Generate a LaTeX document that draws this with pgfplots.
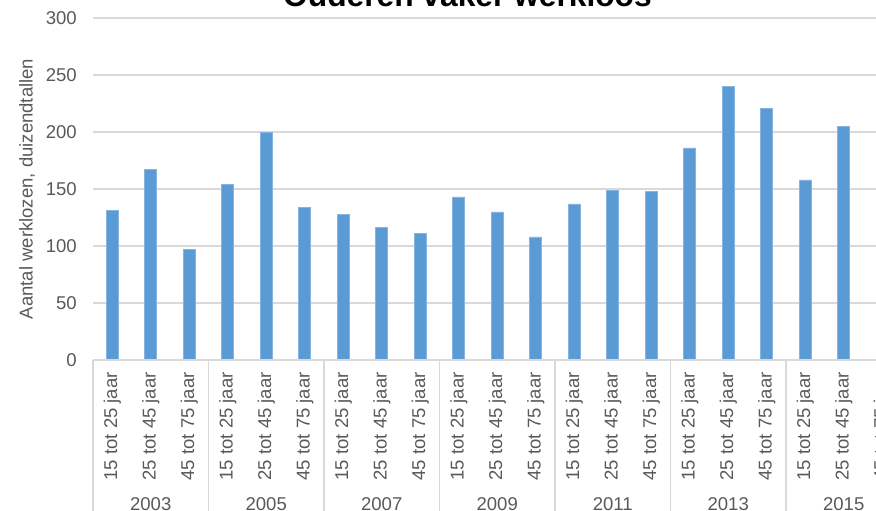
\documentclass[border=0pt]{standalone}
\usepackage{pgfplots}
\pgfplotsset{compat=1.18}
\usepackage{fontspec}
\setmainfont{Liberation Sans}
\definecolor{barblue}{HTML}{5B9BD5}
\definecolor{baredge}{HTML}{86B4E2}
\definecolor{gridgray}{HTML}{D9D9D9}
\definecolor{textgray}{HTML}{595959}
\begin{document}
\begin{tikzpicture}
\begin{axis}[
  at={(0pt,0pt)}, anchor=south west,
  scale only axis, width=606.375pt, height=256.5pt,
  xmin=-0.5, xmax=20.5, ymin=0, ymax=300,
  ytick={0,50,100,150,200,250,300},
  xtick={0,...,20},
  xticklabels={15 tot 25 jaar,25 tot 45 jaar,45 tot 75 jaar,
               15 tot 25 jaar,25 tot 45 jaar,45 tot 75 jaar,
               15 tot 25 jaar,25 tot 45 jaar,45 tot 75 jaar,
               15 tot 25 jaar,25 tot 45 jaar,45 tot 75 jaar,
               15 tot 25 jaar,25 tot 45 jaar,45 tot 75 jaar,
               15 tot 25 jaar,25 tot 45 jaar,45 tot 75 jaar,
               15 tot 25 jaar,25 tot 45 jaar,45 tot 75 jaar},
  /pgf/number format/assume math mode=true,
  axis line style={draw=none},
  major tick length=0pt,
  ymajorgrids, grid style={gridgray, line width=1pt},
  ticklabel style={font=\fontsize{13.9}{16}\selectfont, text=textgray},
  xticklabel style={rotate=90, anchor=east, inner sep=0pt},
  xticklabel shift=9pt,
  yticklabel style={anchor=east, inner sep=0pt},
  yticklabel shift=12pt,
  ylabel={Aantal werklozen, duizendtallen},
  ylabel style={at={(axis description cs:-0.0816,0.5)}, anchor=center,
                font=\fontsize{13.9}{16}\selectfont, text=textgray},
  clip=false,
]
\addplot[ybar, bar width=9pt, fill=barblue, draw=baredge, line width=0.4pt]
  coordinates {
  (0,131) (1,167) (2,97)
  (3,154) (4,200) (5,134)
  (6,128) (7,116) (8,111)
  (9,143) (10,130) (11,108)
  (12,137) (13,149) (14,148)
  (15,186) (16,240) (17,221)
  (18,158) (19,205) (20,251)
  };
\draw[gridgray, line width=1pt] (axis cs:-0.5,0) -- (axis cs:20.5,0);
\draw[gridgray, line width=1pt] (axis cs:-0.5,0) -- ++(0pt,-130pt);
\draw[gridgray, line width=1pt] (axis cs:2.5,0) -- ++(0pt,-130pt);
\draw[gridgray, line width=1pt] (axis cs:5.5,0) -- ++(0pt,-130pt);
\draw[gridgray, line width=1pt] (axis cs:8.5,0) -- ++(0pt,-130pt);
\draw[gridgray, line width=1pt] (axis cs:11.5,0) -- ++(0pt,-130pt);
\draw[gridgray, line width=1pt] (axis cs:14.5,0) -- ++(0pt,-130pt);
\draw[gridgray, line width=1pt] (axis cs:17.5,0) -- ++(0pt,-130pt);
\draw[gridgray, line width=1pt] (axis cs:20.5,0) -- ++(0pt,-130pt);
\foreach \xx/\yr in {1/2003,4/2005,7/2007,10/2009,13/2011,16/2013,19/2015}{
  \edef\tmp{\noexpand\node[anchor=base, inner sep=0pt, text=textgray,
    font=\noexpand\fontsize{13.9}{16}\noexpand\selectfont]
    at ([yshift=-112.9pt]axis cs:\xx,0) {\yr};}
  \tmp
}
\end{axis}
\node[anchor=base, inner sep=0pt, font=\fontsize{23.8}{28}\selectfont\bfseries]
  at (280.875pt,264.75pt) {Ouderen vaker werkloos};
\pgfresetboundingbox
\useasboundingbox (-69.75pt,-113.25pt) rectangle (587.25pt,270pt);
\end{tikzpicture}
\end{document}
